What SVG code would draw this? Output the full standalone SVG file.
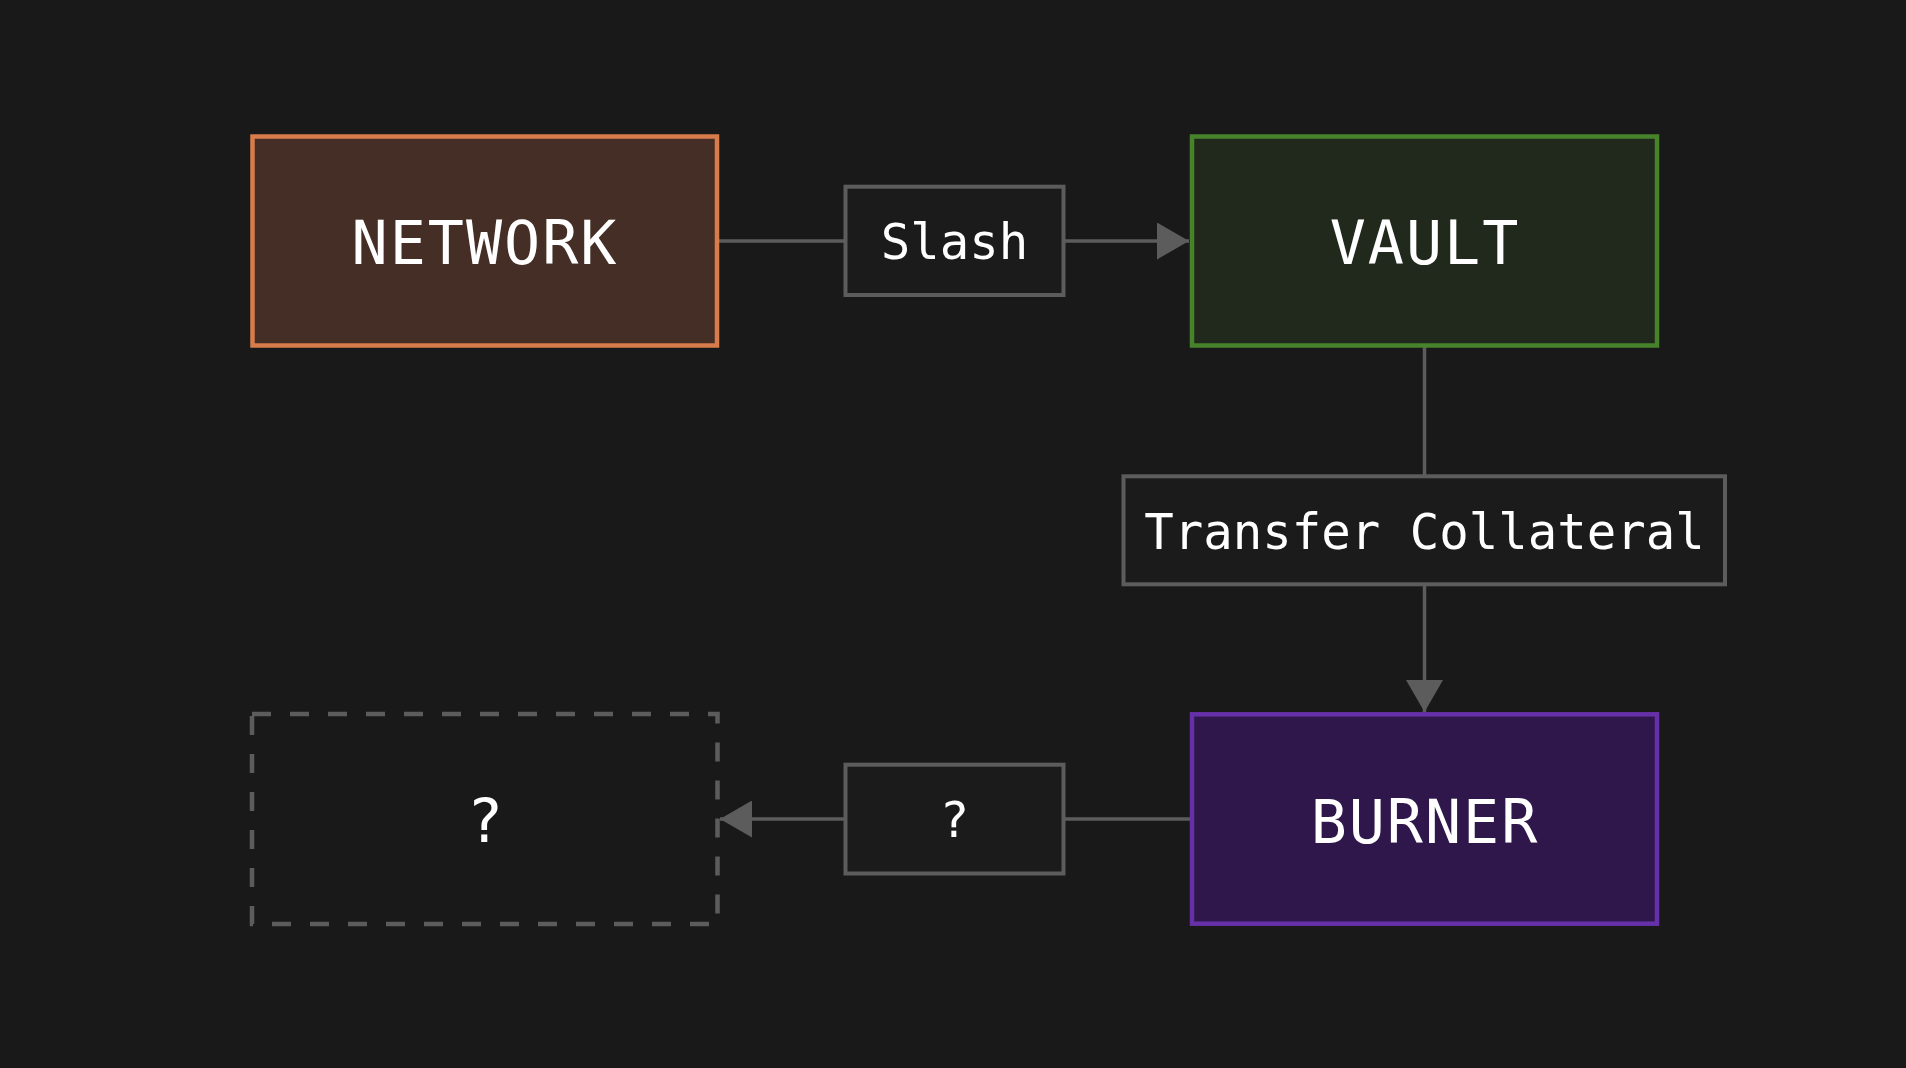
<svg xmlns="http://www.w3.org/2000/svg" width="1906" height="1068" viewBox="0 0 1906 1068">
<style>
.big{font-family:"DejaVu Sans Mono","Liberation Mono",monospace;font-size:60px;fill:#ffffff;text-anchor:middle;letter-spacing:2px}
.lbl{font-family:"DejaVu Sans Mono","Liberation Mono",monospace;font-size:49px;fill:#ffffff;text-anchor:middle}
.lbox{fill:#1b1b1b;stroke:#5c5c5c;stroke-width:4}
.conn{stroke:#5c5c5c;stroke-width:3.5;fill:none}
</style>
<defs>
<marker id="arr" viewBox="0 0 32 37" refX="32" refY="18.5" markerWidth="32" markerHeight="37" markerUnits="userSpaceOnUse" orient="auto">
<path d="M0,0 L32,18.5 L0,37 Z" fill="#5c5c5c"/>
</marker>
</defs>
<rect width="1906" height="1068" fill="#191919"/>
<g id="connectors">
<line class="conn" x1="717" y1="241" x2="845" y2="241"/>
<line class="conn" x1="1065" y1="241" x2="1189" y2="241" marker-end="url(#arr)"/>
<line class="conn" x1="1424.5" y1="347" x2="1424.5" y2="476"/>
<line class="conn" x1="1424.5" y1="584" x2="1424.5" y2="712" marker-end="url(#arr)"/>
<line class="conn" x1="1190" y1="819" x2="1065" y2="819"/>
<line class="conn" x1="845" y1="819" x2="720" y2="819" marker-end="url(#arr)"/>
</g>
<g id="network">
<rect x="252.5" y="136.5" width="464.5" height="209" fill="#452e25" stroke="#d87c4c" stroke-width="4.5"/>
<text class="big" x="485" y="264">NETWORK</text>
</g>
<g id="vault">
<rect x="1192" y="136.5" width="465" height="209" fill="#20291b" stroke="#47832b" stroke-width="4.5"/>
<text class="big" x="1425" y="264">VAULT</text>
</g>
<g id="burner">
<rect x="1192" y="714.3" width="465" height="209.4" fill="#2f174c" stroke="#6630a8" stroke-width="4.5"/>
<text class="big" x="1425" y="843">BURNER</text>
</g>
<g id="unknown">
<rect x="252" y="714" width="465.5" height="210" fill="none" stroke="#5c5c5c" stroke-width="4.5" stroke-dasharray="19 19"/>
<text class="big" x="485" y="842" style="letter-spacing:0">?</text>
</g>
<g id="label-slash">
<rect class="lbox" x="845.5" y="186.7" width="218" height="108.3"/>
<text class="lbl" x="954.5" y="259">Slash</text>
</g>
<g id="label-transfer">
<rect class="lbox" x="1123.5" y="476.3" width="601.5" height="108"/>
<text class="lbl" x="1424.5" y="549">Transfer Collateral</text>
</g>
<g id="label-unknown">
<rect class="lbox" x="845.5" y="764.7" width="218" height="108.8"/>
<text class="lbl" x="954.5" y="837">?</text>
</g>
</svg>
